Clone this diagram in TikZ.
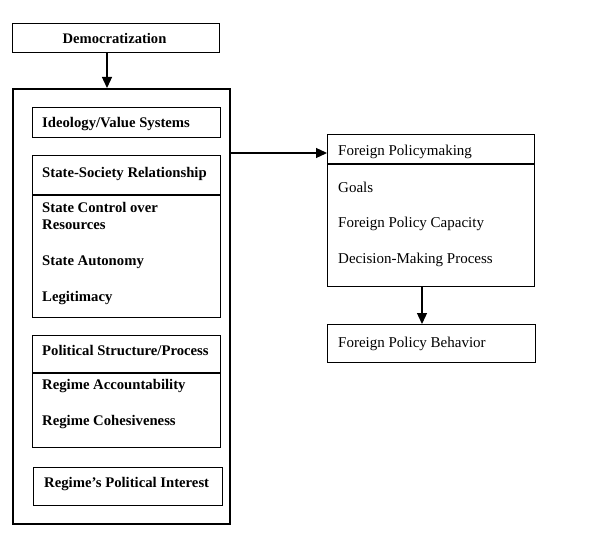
\documentclass[tikz,border=0pt]{standalone}
\usepackage{fontspec}
\setmainfont{Liberation Serif}
\usetikzlibrary{arrows.meta}
\begin{document}
\begin{tikzpicture}[x=1pt,y=-1pt,
  box/.style={draw, line width=1.4pt, inner sep=0pt, anchor=north west},
  bigbox/.style={draw, line width=2.2pt, inner sep=0pt, anchor=north west},
  ltxt/.style={anchor=base west, inner sep=0pt, font=\fontsize{14.7}{17}\selectfont\bfseries},
  rtxt/.style={anchor=base west, inner sep=0pt, font=\fontsize{15}{17}\selectfont},
  sep/.style={line width=1.4pt},
  conn/.style={line width=1.3pt, -{Triangle[length=11pt,width=10pt]}}]
\useasboundingbox (0,0) rectangle (600,543);
\fill[white] (0,0) rectangle (600,543);
% boxes
\node[box, minimum width=207pt, minimum height=29pt] (dem) at (12,23) {};
\node[anchor=base, inner sep=0pt, font=\fontsize{14.6}{17}\selectfont\bfseries] (demt) at (114.5,44) {Democratization};
\node[bigbox, minimum width=217pt, minimum height=435pt] (big) at (12,88) {};
\node[box, minimum width=188pt, minimum height=30pt] (ideo) at (32,107) {};
\node[box, minimum width=188pt, minimum height=162pt] (ssr) at (32,155) {};
\node[box, minimum width=188pt, minimum height=112pt] (psp) at (32,335) {};
\node[box, minimum width=189pt, minimum height=38pt] (rpi) at (33,467) {};
\node[box, minimum width=207pt, minimum height=152pt] (fpm) at (327,134) {};
\node[box, minimum width=208pt, minimum height=38pt] (fpb) at (327,324) {};
% separators
\coordinate (s1) at (0,195);
\coordinate (s2) at (0,373);
\coordinate (s3) at (0,164);
\draw[sep] (ssr.west |- s1) -- (ssr.east |- s1);
\draw[sep] (psp.west |- s2) -- (psp.east |- s2);
\draw[sep] (fpm.west |- s3) -- (fpm.east |- s3);
% texts
\node[ltxt] (t1) at (42,128) {Ideology/Value Systems};
\node[ltxt] (t2) at (42,177) {State-Society Relationship};
\node[ltxt] (t3) at (42,212) {State Control over};
\node[ltxt] (t4) at (42,229) {Resources};
\node[ltxt] (t5) at (42,265) {State Autonomy};
\node[ltxt] (t6) at (42,301.5) {Legitimacy};
\node[ltxt] (t7) at (42,355.5) {Political Structure/Process};
\node[ltxt] (t8) at (42,389) {Regime Accountability};
\node[ltxt] (t9) at (42,425.5) {Regime Cohesiveness};
\node[ltxt] (t10) at (44,487.5) {Regime’s Political Interest};
\node[rtxt] (r1) at (338,155) {Foreign Policymaking};
\node[rtxt] (r2) at (338,192.5) {Goals};
\node[rtxt] (r3) at (338,227) {Foreign Policy Capacity};
\node[rtxt] (r4) at (338,263) {Decision-Making Process};
\node[rtxt] (r5) at (338,347.5) {Foreign Policy Behavior};
% connectors
\coordinate (ax) at (107,0);
\coordinate (ay) at (0,153);
\coordinate (bx) at (422,0);
\draw[conn] (dem.south -| ax) -- (big.north -| ax);
\draw[conn] (big.east |- ay) -- (fpm.west |- ay);
\draw[conn] (fpm.south -| bx) -- (fpb.north -| bx);
\end{tikzpicture}
\end{document}
